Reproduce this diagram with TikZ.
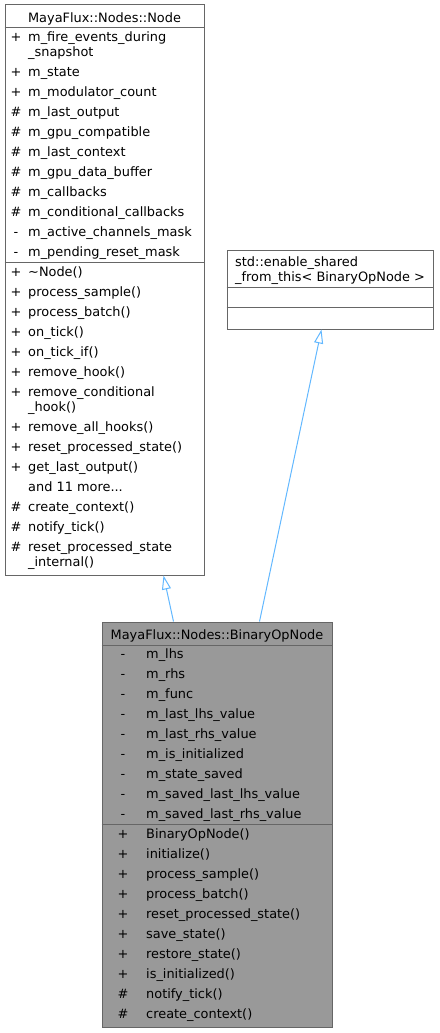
\documentclass[tikz,border=0pt]{standalone}
\usepackage{fontspec}
\setmainfont{DejaVu Sans}
\usetikzlibrary{arrows.meta,positioning}
\definecolor{edgeblue}{HTML}{63B8FF}
\definecolor{boxline}{HTML}{666666}
\definecolor{boxfill}{HTML}{999999}

\begin{document}
\begin{tikzpicture}[x=1pt, y=-1pt, font=\fontsize{12.9}{15}\selectfont,
  classbox/.style={draw=boxline, line width=1pt, inner sep=0pt},
  txt/.style={inner sep=0pt, yshift=-2pt},
  row/.style={txt, anchor=mid west},
  sym/.style={txt, anchor=mid},
  sep/.style={draw=boxline, line width=1pt},
  inherit/.style={draw=edgeblue, line width=1pt, -{Triangle[open, length=14pt, width=9pt]}}]
  \useasboundingbox (0,0) rectangle (439,1033);
  % base class
  \node[classbox, fill=white, minimum width=199pt, minimum height=570pt] (node) at (104.5,290) {};
  \node[txt] (nodetitle) at (104.5,17) {MayaFlux::Nodes::Node};
  \draw[sep] (node.west |- 0,28) -- (node.east |- 0,28);
  \draw[sep] (node.west |- 0,262) -- (node.east |- 0,262);
  \foreach \y/\s/\t in {37/+/m\_fire\_events\_during, 52//\_snapshot, 72/+/m\_state,
      92/+/m\_modulator\_count, 112/\#/m\_last\_output, 132/\#/m\_gpu\_compatible,
      152/\#/m\_last\_context, 172/\#/m\_gpu\_data\_buffer, 192/\#/m\_callbacks,
      212/\#/m\_conditional\_callbacks, 232/-/m\_active\_channels\_mask,
      252/-/m\_pending\_reset\_mask,
      272/+/\textasciitilde Node(), 292/+/process\_sample(), 312/+/process\_batch(),
      332/+/on\_tick(), 352/+/on\_tick\_if(), 372/+/remove\_hook(),
      392/+/remove\_conditional, 407//\_hook(), 427/+/remove\_all\_hooks(),
      447/+/reset\_processed\_state(), 467/+/get\_last\_output(), 487//{and 11 more...},
      507/\#/create\_context(), 527/\#/notify\_tick(),
      547/\#/reset\_processed\_state, 562//\_internal()} {
    \node[sym] at (16,\y) {\s};
    \node[row] at (28,\y) {\t};
  }
  % second base
  \node[classbox, fill=white, minimum width=206pt, minimum height=79pt] (std) at (330,289.5) {};
  \node[row] (stdtitle) at (235,262) {std::enable\_shared};
  \node[row] at (235,277) {\_from\_this< BinaryOpNode >};
  \draw[sep] (std.west |- 0,287) -- (std.east |- 0,287);
  \draw[sep] (std.west |- 0,307) -- (std.east |- 0,307);
  % derived class
  \node[classbox, fill=boxfill, minimum width=230pt, minimum height=405pt] (binop) at (217,824.5) {};
  \node[txt] (binoptitle) at (217,634) {MayaFlux::Nodes::BinaryOpNode};
  \draw[sep] (binop.west |- 0,645) -- (binop.east |- 0,645);
  \draw[sep] (binop.west |- 0,824) -- (binop.east |- 0,824);
  \foreach \y/\s/\t in {654/-/m\_lhs, 674/-/m\_rhs, 694/-/m\_func,
      714/-/m\_last\_lhs\_value, 734/-/m\_last\_rhs\_value, 754/-/m\_is\_initialized,
      774/-/m\_state\_saved, 794/-/m\_saved\_last\_lhs\_value, 814/-/m\_saved\_last\_rhs\_value,
      834/+/BinaryOpNode(), 854/+/initialize(), 874/+/process\_sample(),
      894/+/process\_batch(), 914/+/reset\_processed\_state(), 934/+/save\_state(),
      954/+/restore\_state(), 974/+/is\_initialized(), 994/\#/notify\_tick(),
      1014/\#/create\_context()} {
    \node[sym] at (123,\y) {\s};
    \node[row] at (146,\y) {\t};
  }
  % inheritance
  \draw[inherit] ([xshift=72pt]binop.north west) -- ([xshift=159pt]node.south west);
  \draw[inherit] ([xshift=158pt]binop.north west) -- ([xshift=95pt]std.south west);
\end{tikzpicture}
\end{document}
